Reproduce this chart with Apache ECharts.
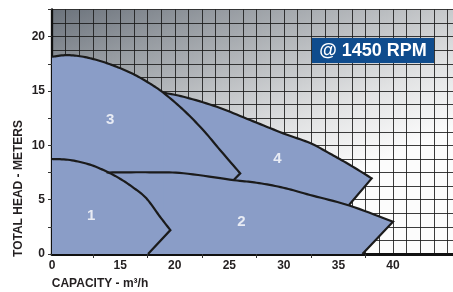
<!DOCTYPE html>
<html>
<head>
<meta charset="utf-8">
<script src="https://cdn.jsdelivr.net/npm/echarts@6/dist/echarts.min.js"></script>
<style>
  html, body { margin: 0; padding: 0; background: #fff; }
  #main { width: 453px; height: 292px; }
</style>
</head>
<body>
<div id="main"></div>
<script>
// pump curves, capacity in m3/h and head in meters
// last point of each list is the foot of the closing line, the one before it is the tip
const region1Flow = [0, 3.96, 8.36, 12.0, 14.95, 16.2, 17.4, 18.65, 19.6, 17.55];
const region1Head = [8.74, 8.65, 8.22, 7.59, 6.93, 6.11, 5.12, 3.43, 2.2, 0];

const region2Flow = [12.0, 17.7, 20.8, 25.4, 27.5, 29.95, 32.4, 36.06, 40.0, 37.2];
const region2Head = [7.5, 7.52, 7.43, 6.8, 6.56, 6.1, 5.43, 4.44, 2.97, 0];

const region3Flow = [0, 3.2, 6.9, 10.6, 14.2, 16.2, 17.7, 18.95, 20.8, 22.6, 24.15, 26.0, 25.4];
const region3Head = [18.15, 18.3, 18.15, 17.76, 17.23, 16.56, 15.7, 14.84, 13.25, 11.41, 9.57, 7.42, 6.8];

const region4Flow = [18.95, 20.8, 23.85, 26.9, 29.95, 32.4, 34.2, 36.06, 38.05, 35.97];
const region4Head = [14.84, 14.47, 13.55, 12.33, 11.1, 10.21, 9.25, 8.19, 6.96, 4.51];

const labelNames = ['1', '2', '3', '4'];
const labelFlow = [8.6, 26.1, 12.8, 29.4];
const labelHead = [3.5, 2.95, 12.3, 8.75];

const xTickLabels = [0, 15, 20, 25, 30, 35, 40];
const xMinorTicks = [12.5, 17.5, 22.5, 27.5, 32.5, 37.5];

const regions = [
    { flow: region1Flow, head: region1Head },
    { flow: region2Flow, head: region2Head },
    { flow: region3Flow, head: region3Head },
    { flow: region4Flow, head: region4Head }
];

// the axis is squeezed between 0 and 15 (broken axis on the original sheet)
const AXIS_START = 8.75;
function xPos(q) {
    return q < 15 ? AXIS_START + q * (15 - AXIS_START) / 15 : q;
}

const FILL = '#8a9dc7';
const EDGE = '#1b1b1b';
const TXT = '#231f20';
const FONT = '"Liberation Sans", Arial, sans-serif';

// catmull-rom through the pixel points so the curve is drawn round, not kinked
function spline(pts) {
    const out = [];
    for (let i = 0; i < pts.length - 1; i++) {
        const p0 = pts[Math.max(i - 1, 0)], p1 = pts[i], p2 = pts[i + 1], p3 = pts[Math.min(i + 2, pts.length - 1)];
        for (let k = 0; k < 10; k++) {
            const t = k / 10, t2 = t * t, t3 = t2 * t;
            out.push([0, 1].map(d => 0.5 * ((2 * p1[d]) + (-p0[d] + p2[d]) * t +
                (2 * p0[d] - 5 * p1[d] + 4 * p2[d] - p3[d]) * t2 +
                (-p0[d] + 3 * p1[d] - 3 * p2[d] + p3[d]) * t3)));
        }
    }
    out.push(pts[pts.length - 1]);
    return out;
}

function outline(r, api) {
    const pts = r.flow.map((q, i) => api.coord([xPos(q), r.head[i]]));
    const curve = spline(pts.slice(0, pts.length - 1));
    curve.push(pts[pts.length - 1]);
    return curve;
}

function renderFill(params, api) {
    const r = regions[params.dataIndex];
    const pts = outline(r, api);
    pts.push(api.coord([xPos(r.flow[r.flow.length - 1]), 0]));
    pts.push(api.coord([xPos(r.flow[0]), 0]));
    return { type: 'polygon', shape: { points: pts }, style: { fill: FILL } };
}

function renderEdge(params, api) {
    const r = regions[params.dataIndex];
    return {
        type: 'polyline',
        shape: { points: outline(r, api) },
        style: { stroke: EDGE, lineWidth: 2.2, fill: null, lineJoin: 'miter' }
    };
}

const regionData = regions.map(r => [xPos(r.flow[0]), r.head[0]]);

const chart = echarts.init(document.getElementById('main'));

chart.setOption({
    animation: false,
    grid: {
        left: 52, right: 0, top: 9.5, bottom: 38,
        show: true,
        borderWidth: 0,
        backgroundColor: {
            type: 'linear', x: 0, y: 0, x2: 0.25, y2: 1,
            colorStops: [
                { offset: 0, color: '#6b727b' },
                { offset: 0.25, color: '#969ba1' },
                { offset: 0.5, color: '#bcbfc2' },
                { offset: 0.75, color: '#e1e2e3' },
                { offset: 1, color: '#fcfcfc' }
            ]
        }
    },
    xAxis: [
        {
            type: 'value', min: AXIS_START, max: 45.5, interval: 1.25,
            position: 'bottom',
            axisLine: { show: false },
            axisTick: { show: false },
            axisLabel: { show: false },
            splitLine: { show: true, lineStyle: { color: '#1a1a1a', width: 1, opacity: 0.85 } }
        },
        {
            type: 'value', min: AXIS_START, max: 45.5,
            position: 'bottom',
            axisLine: { show: true, lineStyle: { color: '#111', width: 3 } },
            axisTick: {
                show: true, length: 4, customValues: xMinorTicks,
                lineStyle: { color: '#333', width: 1 }
            },
            axisLabel: {
                customValues: xTickLabels.map(v => v === 0 ? AXIS_START : v),
                formatter: v => v === AXIS_START ? '0' : String(v),
                margin: 6, color: TXT, fontWeight: 'bold', fontSize: 12, fontFamily: FONT
            },
            splitLine: { show: false }
        }
    ],
    yAxis: {
        type: 'value', min: 0, max: 22.5, interval: 2.5,
        axisLine: { show: true, lineStyle: { color: '#111', width: 2.3 } },
        axisTick: { show: true, length: 4, lineStyle: { color: '#333', width: 1 } },
        axisLabel: {
            formatter: v => v % 5 === 0 ? String(v) : '',
            margin: 7, color: TXT, fontWeight: 'bold', fontSize: 12, fontFamily: FONT
        },
        minorTick: { show: false, splitNumber: 2 },
        splitLine: { show: true, lineStyle: { color: '#1a1a1a', width: 1, opacity: 0.85 } },
        minorSplitLine: { show: true, lineStyle: { color: '#1a1a1a', width: 1, opacity: 0.85 } }
    },
    graphic: [
        {
            type: 'rect', left: 312, top: 38, z: 100,
            shape: { width: 122, height: 25 },
            style: { fill: '#0f4c8d' }
        },
        {
            type: 'text', x: 373, y: 51, z: 101,
            style: {
                text: '@ 1450 RPM', fill: '#fff', align: 'center', verticalAlign: 'middle',
                font: 'bold 18px ' + FONT
            }
        },
        {
            type: 'text', x: 100, y: 284, z: 101,
            style: {
                text: 'CAPACITY - m³/h', fill: TXT, align: 'center', verticalAlign: 'middle',
                font: 'bold 12px ' + FONT
            }
        },
        {
            type: 'text', x: 18.5, y: 188.5, rotation: Math.PI / 2, z: 101,
            style: {
                text: 'TOTAL HEAD - METERS', fill: TXT, align: 'center', verticalAlign: 'middle',
                font: 'bold 12px ' + FONT
            }
        }
    ],
    series: [
        {
            type: 'custom', name: 'fill', xAxisIndex: 0, z: 2,
            renderItem: renderFill, data: regionData, silent: true
        },
        {
            type: 'custom', name: 'edge', xAxisIndex: 0, z: 3,
            renderItem: renderEdge, data: regionData, silent: true
        },
        {
            type: 'scatter', xAxisIndex: 0, z: 4, symbolSize: 0,
            data: labelFlow.map((q, i) => [xPos(q), labelHead[i]]),
            label: {
                show: true, position: 'inside',
                formatter: p => labelNames[p.dataIndex],
                color: '#fff', fontWeight: 'bold', fontSize: 15, fontFamily: FONT
            }
        }
    ]
});
</script>
</body>
</html>
